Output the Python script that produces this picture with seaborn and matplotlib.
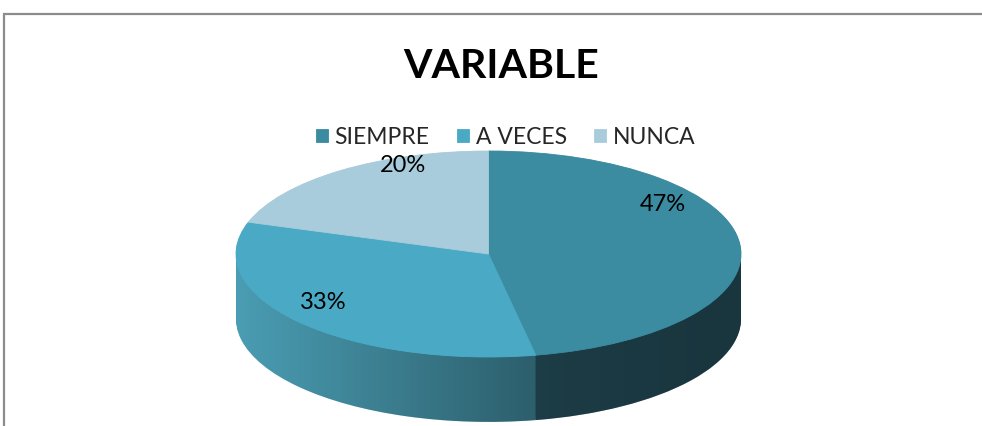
import numpy as np
import matplotlib
matplotlib.use("Agg")
import matplotlib.pyplot as plt
import seaborn as sns
from matplotlib.patches import Polygon, Rectangle

sns.set_theme(style="white")
plt.rcParams['font.family'] = ['Lato', 'DejaVu Sans']

# data
categories = ["SIEMPRE", "A VECES", "NUNCA"]
values = [47, 33, 20]
pct_labels = ["47%", "33%", "20%"]

top_colors = ["#3b8ba1", "#4aaac5", "#a8ccdb"]
side_colors = ["#306677", "#4a9db3", "#8fb4c2"]

# label anchors (axes data units, layout only)
label_pos = [(0.69, 0.48), (-0.655, -0.47), (-0.34, 0.86)]

W, H = 982, 426
fig = plt.figure(figsize=(W / 100, H / 100), dpi=100)
fig.patch.set_facecolor("white")

# chart border (runs past the right/bottom edge like the crop)
fig.patches.append(Rectangle((4 / W, -0.1), 1.1, 1.1 - 14 / H,
                             transform=fig.transFigure, fill=False,
                             edgecolor="#8c8c8c", linewidth=1.6))

depth = 0.63
cx, cy, a, b = 488.5, 254, 252.5, 103
ax = fig.add_axes([(cx - a) / W, (H - cy - b * (1 + depth)) / H,
                   2 * a / W, b * (2 + depth) / H])

# side of the "3d" pie: stacked layers from bottom to top
for t in np.linspace(depth, 0.004, 60):
    ax.pie(values, colors=side_colors, startangle=90, counterclock=False,
           center=(0, -t), wedgeprops=dict(linewidth=0))

# gradient shading on the visible side
th = np.linspace(np.pi, 2 * np.pi, 200)
band = np.concatenate([np.column_stack([np.cos(th), np.sin(th)]),
                       np.column_stack([np.cos(th[::-1]), np.sin(th[::-1]) - depth])])
clip = Polygon(band, closed=True, transform=ax.transData, facecolor="none", edgecolor="none")
ax.add_patch(clip)
xs = np.linspace(-1, 1, 400)
alpha = np.where(xs < 0.25, 0.42 * (xs + 1) / 1.25, 0.42 + 0.06 * (xs - 0.25) / 0.75)
grad = np.zeros((1, xs.size, 4))
grad[..., 3] = alpha
img = ax.imshow(grad, extent=(-1, 1, -1 - depth, 0), aspect="auto", zorder=3, interpolation="bilinear")
img.set_clip_path(clip)

# top surface
wedges, _ = ax.pie(values, colors=top_colors, startangle=90, counterclock=False,
                   wedgeprops=dict(linewidth=0.6))
for w, c in zip(wedges, top_colors):
    w.set_edgecolor(c)
    w.set_zorder(4)

for lab, (x, y) in zip(pct_labels, label_pos):
    ax.text(x, y, lab, ha="center", va="center", fontsize=17, color="black", zorder=5)

ax.set_aspect("auto")
ax.set_xlim(-1, 1)
ax.set_ylim(-1 - depth, 1)
ax.axis("off")

fig.text(0.51, 1 - 67 / H, "VARIABLE", ha="center", va="center",
         fontsize=29.5, fontweight="bold", color="black")

fig.legend(wedges, categories, loc="center", bbox_to_anchor=(0.515, 1 - 137 / H),
           ncol=3, frameon=False, fontsize=16.5, handlelength=0.5, handleheight=0.5,
           handletextpad=0.3, columnspacing=1.2, borderpad=0)

fig.savefig("out.png", dpi=100, facecolor="white")
